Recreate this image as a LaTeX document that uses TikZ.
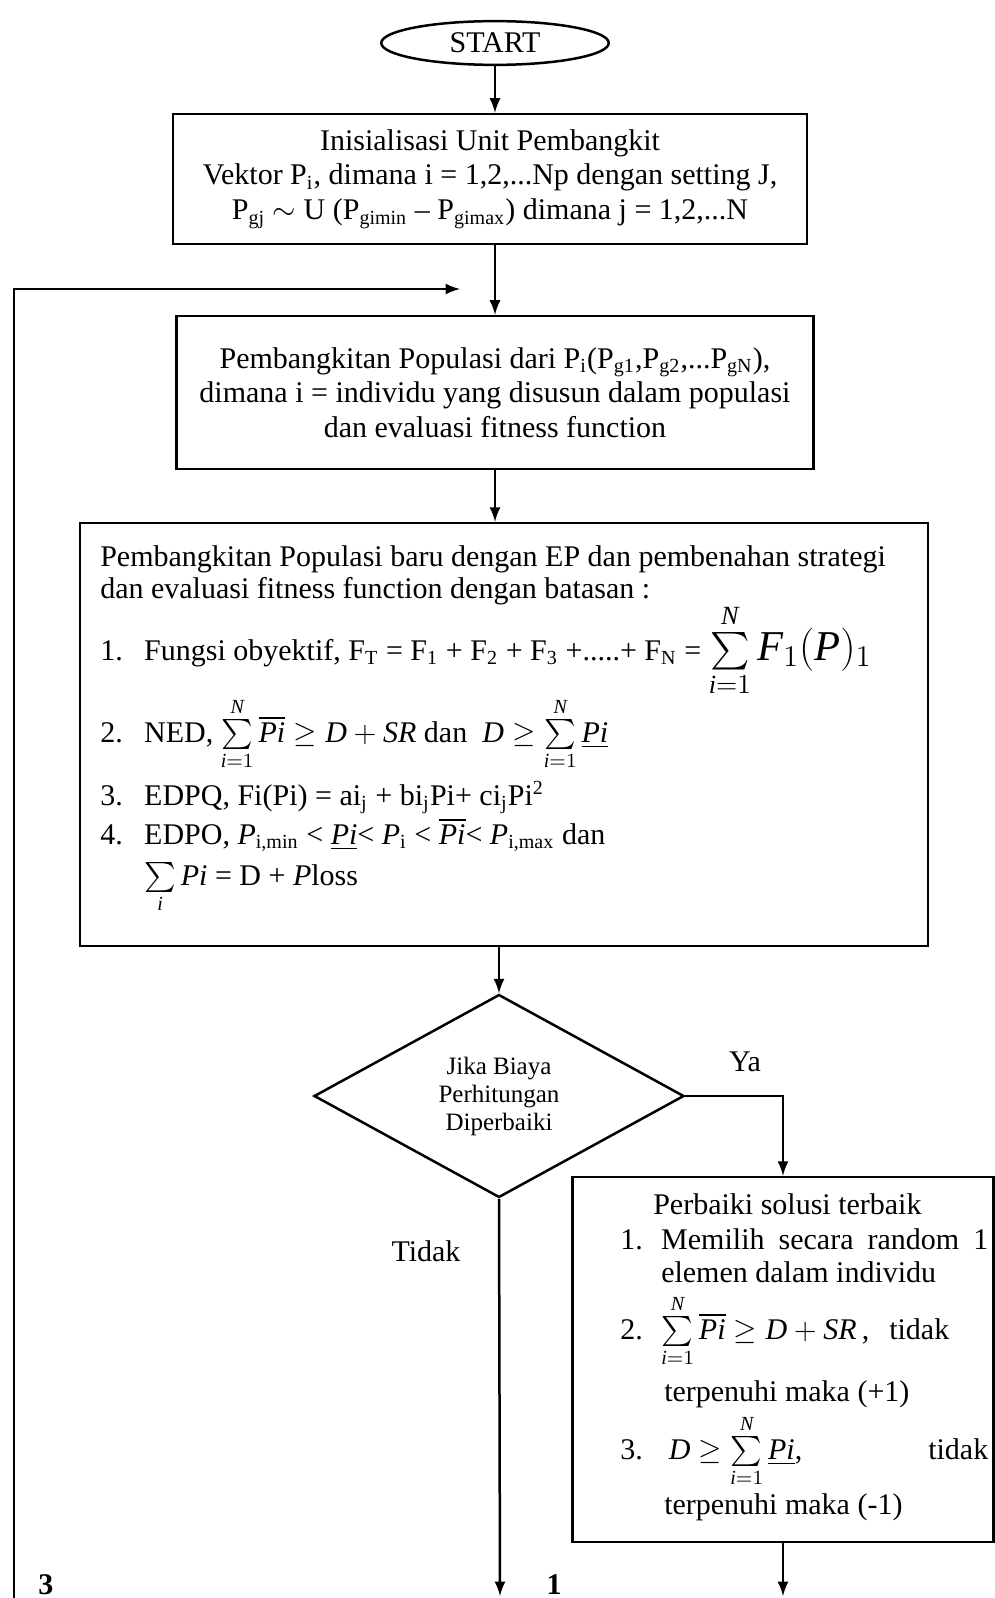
\documentclass[tikz,border=0pt]{standalone}
\usepackage{amsmath,amssymb}
\usepackage{fontspec}
\setmainfont{Liberation Serif}
\usetikzlibrary{positioning,shapes.geometric,arrows}
\newcommand{\itv}[1]{\textit{#1}}

\begin{document}
\begin{tikzpicture}[x=0.4pt,y=-0.4pt,font=\fontsize{12}{13.9}\selectfont,
  >=latex,line width=1pt,
  term/.style={draw,ellipse,minimum width=91pt,minimum height=17.5pt,inner sep=0pt},
  box/.style={draw,rectangle,align=center,inner sep=0pt},
  txt/.style={anchor=base west,inner sep=0pt}]

% Column positions (1 unit = 1 pixel of the page)
\def\colM{495}   % main column
\def\colL{14}    % loop-back line
\def\colR{783}   % right branch

\useasboundingbox (0,0) rectangle (994,1598);

% Start
\node[term] (start) at (\colM,43) {START};

% Initialisation box
\node[box,minimum width=634*0.4pt,minimum height=130*0.4pt] (init) at (490,179)
  {Inisialisasi Unit Pembangkit\\
   Vektor P\textsubscript{i}, dimana i = 1,2,...Np dengan setting J,\\
   P\textsubscript{gj} $\sim$ U (P\textsubscript{gimin} -- P\textsubscript{gimax}) dimana j = 1,2,...N};

% Population box
\node[box,minimum width=637*0.4pt,minimum height=153*0.4pt] (pop) at (\colM,392.5)
  {Pembangkitan Populasi dari P\textsubscript{i}(P\textsubscript{g1},P\textsubscript{g2},...P\textsubscript{gN}),\\
   dimana i = individu yang disusun dalam populasi\\
   dan evaluasi fitness function};

% New population box (frame, lines placed one by one, y = baseline)
\node[box,minimum width=848*0.4pt,minimum height=423*0.4pt] (newpop) at (504,734.5) {};
\node[txt] (np1) at (99,566) {Pembangkitan Populasi baru dengan EP dan pembenahan strategi};
\node[txt] (np2) at (99,598) {dan evaluasi fitness function dengan batasan :};
\node[txt] (np3) at (99,660) {\makebox[17.6pt][l]{1.}Fungsi obyektif, F\textsubscript{T} = F\textsubscript{1} + F\textsubscript{2} + F\textsubscript{3} +.....+ F\textsubscript{N} = {\fontsize{15}{18}\selectfont$\sum\limits_{\itv{i}=1}^{\itv{N}}$\,{\fontsize{17}{20}\selectfont$\itv{F}_{1}(\itv{P})_{1}$}}};
\node[txt] (np4) at (99,742) {\makebox[17.6pt][l]{2.}NED, $\sum\limits_{\itv{i}=1}^{\itv{N}}\overline{\itv{Pi}}\geq\itv{D}+\itv{SR}$ dan \ $\itv{D}\geq\sum\limits_{\itv{i}=1}^{\itv{N}}\underline{\itv{Pi}}$};
\node[txt] (np5) at (99,805) {\makebox[17.6pt][l]{3.}EDPQ, Fi(Pi) = ai\textsubscript{j} + bi\textsubscript{j}Pi+ ci\textsubscript{j}Pi\textsuperscript{2}};
\node[txt] (np6) at (99,844) {\makebox[17.6pt][l]{4.}EDPO, \itv{P}\textsubscript{i,min} < \underline{\itv{Pi}}< \itv{P}\textsubscript{i} < $\overline{\itv{Pi}}$< \itv{P}\textsubscript{i,max} dan};
\node[txt] (np7) at (143,885) {$\sum\limits_{\itv{i}}\itv{Pi}$ = D + \itv{P}loss};

% Decision
\node[draw,diamond,minimum width=370*0.4pt,minimum height=203*0.4pt,inner sep=0pt,
  align=center,font=\fontsize{10}{11.2}\selectfont] (cek) at (499,1096)
  {Jika Biaya\\Perhitungan\\Diperbaiki};
\node (ya) at (745,1062) {Ya};
\node (tidak) at (426,1251) {Tidak};

% Repair box (frame, lines placed one by one, y = baseline)
\node[box,minimum width=421*0.4pt,minimum height=365*0.4pt] (fix) at (\colR,1359.5) {};
\node[txt] (fx0) at (652,1214) {Perbaiki solusi terbaik};
\node[txt] (fx1) at (619,1249) {\makebox[16.4pt][l]{1.}\makebox[130.8pt][s]{Memilih secara random 1}};
\node[txt] (fx2) at (660,1282) {elemen dalam individu};
\node[txt] (fx3) at (619,1339) {\makebox[16.4pt][l]{2.}\makebox[115.2pt][l]{$\sum\limits_{\itv{i}=1}^{\itv{N}}\overline{\itv{Pi}}\geq\itv{D}+\itv{SR}$\,,\hfill tidak}};
\node[txt] (fx4) at (663,1401) {terpenuhi maka (+1)};
\node[txt] (fx5) at (619,1459) {\makebox[16.4pt][l]{3.}\makebox[130.8pt][l]{\ $\itv{D}\geq\sum\limits_{\itv{i}=1}^{\itv{N}}\underline{\itv{Pi}}$,\hfill tidak}};
\node[txt] (fx6) at (663,1514) {terpenuhi maka (-1)};

% Free ends at the page bottom
\coordinate (loop3) at (\colL,1598);
\coordinate (loopend) at (460,289);
\coordinate (out1) at (500,1596);
\coordinate (out2) at (\colR,1596);
\node[anchor=base,inner sep=0pt] (n3) at (46,1594) {\textbf{3}};
\node[anchor=base,inner sep=0pt] (n1) at (554,1594) {\textbf{1}};

% Connectors
\draw[->] (start) -- (start |- init.north);
\draw[->] (init.south -| pop) -- (pop.north);
\draw[->] (pop.south) -- (pop.south |- newpop.north);
\draw[->] (newpop.south -| cek) -- (cek.north);
\draw[->] (cek.east) -| (fix.north);
\draw[->] (cek.south) -- (out1);
\draw[->] (fix.south) -- (out2);
\draw[->] (loop3) |- (loopend);

\end{tikzpicture}
\end{document}
